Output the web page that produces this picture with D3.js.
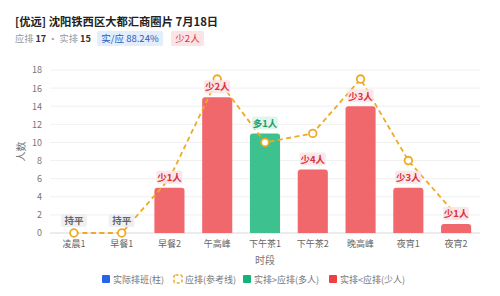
<!DOCTYPE html>
<html><head><meta charset="utf-8">
<script src="https://cdn.jsdelivr.net/npm/d3@7/dist/d3.min.js"></script>
<style>
body{margin:0;background:#fff;font-family:"Noto Sans CJK SC","Noto Sans",sans-serif;}
</style></head>
<body><svg id="c" width="500" height="296"></svg>
<script>
const categories = ["凌晨1","早餐1","早餐2","午高峰","下午茶1","下午茶2","晚高峰","夜宵1","夜宵2"];
const actual = [0,0,5,15,11,7,14,5,1];
const expected = [0,0,6,17,10,11,17,8,2];
const yTicks = [0,2,4,6,8,10,12,14,16,18];
const legendItems = ["实际排班(柱)","应排(参考线)","实排>应排(多人)","实排<应排(少人)"];

const svg = d3.select("#c");
const F = '"Noto Sans CJK SC","Noto Sans",sans-serif';
const m = {l:50, r:20, t:70, b:63};
const W = 500, H = 296;
const x = d3.scaleBand().domain(categories).range([m.l, W - m.r]).paddingInner(0.37).paddingOuter(0.185);
const y = d3.scaleLinear().domain([0,18]).range([H - m.b, m.t]);

// Title
svg.append("text").attr("x",15).attr("y",26).attr("font-family",F).attr("font-size",11.3).attr("font-weight","bold").attr("fill","#222")
  .text("[优远] 沈阳铁西区大都汇商圈片 7月18日");
const sub = svg.append("text").attr("x",15).attr("y",42).attr("font-family",F).attr("font-size",9.2).attr("fill","#999");
sub.append("tspan").text("应排 ");
sub.append("tspan").attr("fill","#333").attr("font-weight","bold").text("17");
sub.append("tspan").text(" · 实排 ");
sub.append("tspan").attr("fill","#333").attr("font-weight","bold").text("15");
svg.append("rect").attr("x",97).attr("y",31).attr("width",66).attr("height",15).attr("rx",2).attr("fill","#e3edfb");
svg.append("text").attr("x",130).attr("y",42).attr("text-anchor","middle").attr("font-family",F).attr("font-size",9.5).attr("fill","#2a5cbf").text("实/应 88.24%");
svg.append("rect").attr("x",171).attr("y",31).attr("width",33).attr("height",15).attr("rx",2).attr("fill","#fbe4e6");
svg.append("text").attr("x",187.5).attr("y",42).attr("text-anchor","middle").attr("font-family",F).attr("font-size",9.5).attr("fill","#d6323e").text("少2人");

// grid
svg.append("g").selectAll("line").data(yTicks).join("line")
  .attr("x1",m.l).attr("x2",W-m.r).attr("y1",d=>y(d)).attr("y2",d=>y(d))
  .attr("stroke",d=>d===0?"#d8d8d8":"#f0f0f0").attr("stroke-width",1);

// y axis
const ya = svg.append("g").attr("transform",`translate(${m.l},0)`).call(d3.axisLeft(y).tickValues(yTicks).tickSize(0).tickPadding(8));
ya.select(".domain").remove();
ya.selectAll("text").attr("font-family",F).attr("font-size",9).attr("fill","#777");
svg.append("text").attr("transform",`translate(25,${(y(0)+y(18))/2}) rotate(-90)`).attr("text-anchor","middle")
  .attr("font-family",F).attr("font-size",10).attr("fill","#777").text("人数");

// x axis
const xa = svg.append("g").attr("transform",`translate(0,${y(0)})`).call(d3.axisBottom(x).tickSize(0).tickPadding(8));
xa.select(".domain").remove();
xa.selectAll("text").attr("font-family",F).attr("font-size",9).attr("fill","#666");
svg.append("text").attr("x",(m.l+W-m.r)/2).attr("y",264).attr("text-anchor","middle")
  .attr("font-family",F).attr("font-size",10).attr("fill","#777").text("时段");

// bars
const data = categories.map((c,i)=>({c, a:actual[i], e:expected[i]}));
const r = 3;
function barPath(d){
  const x0 = x(d.c), w = x.bandwidth(), y0 = y(d.a), yb = y(0);
  if (d.a===0) return "";
  return `M${x0},${yb}V${y0+r}Q${x0},${y0} ${x0+r},${y0}H${x0+w-r}Q${x0+w},${y0} ${x0+w},${y0+r}V${yb}Z`;
}
svg.append("g").selectAll("path").data(data).join("path")
  .attr("d",barPath).attr("fill",d=>d.a>d.e?"#3cc18f":"#f0686c");

// line
const line = d3.line().x(d=>x(d.c)+x.bandwidth()/2).y(d=>y(d.e));
svg.append("path").datum(data).attr("d",line).attr("fill","none").attr("stroke","#efaa25").attr("stroke-width",1.8).attr("stroke-dasharray","5,3.5");
svg.append("g").selectAll("circle").data(data).join("circle")
  .attr("cx",d=>x(d.c)+x.bandwidth()/2).attr("cy",d=>y(d.e)).attr("r",3.8)
  .attr("fill","#fff").attr("stroke","#efaa25").attr("stroke-width",1.8);

// labels
const lg = svg.append("g");
data.forEach(d=>{
  const cx = x(d.c)+x.bandwidth()/2;
  let txt, bg, fg, ty;
  if (d.a===d.e){ txt="持平"; bg="#eceef2"; fg="#666"; ty=y(d.e)-12; }
  else if (d.a>d.e){ txt="多"+(d.a-d.e)+"人"; bg="#dcf5ea"; fg="#1f9c6d"; ty=y(d.a)-10; }
  else { txt="少"+(d.e-d.a)+"人"; bg="#fbe3e5"; fg="#d6323e"; ty=y(d.a)-10; }
  const w = 26;
  lg.append("rect").attr("x",cx-w/2).attr("y",ty-7).attr("width",w).attr("height",13).attr("rx",2).attr("fill",bg).attr("opacity",0.9);
  lg.append("text").attr("x",cx).attr("y",ty+3.3).attr("text-anchor","middle").attr("font-family",F)
    .attr("font-size",9.5).attr("font-weight","bold").attr("fill",fg).text(txt);
});

// legend
const lx = [102,174,243,329];
const leg = svg.append("g");
legendItems.forEach((t,i)=>{
  const X = lx[i], Y = 275;
  if (i===1){
    leg.append("rect").attr("x",X).attr("y",Y).attr("width",8).attr("height",8).attr("rx",1.5)
      .attr("fill","none").attr("stroke","#efaa25").attr("stroke-width",1.5).attr("stroke-dasharray","3,2");
  } else {
    const col = ["#2563eb",null,"#13b37b","#ef3e45"][i];
    leg.append("rect").attr("x",X).attr("y",Y).attr("width",8).attr("height",8).attr("rx",1).attr("fill",col);
  }
  leg.append("text").attr("x",X+11).attr("y",Y+8).attr("font-family",F).attr("font-size",9).attr("fill","#777").text(t);
});
</script></body></html>
